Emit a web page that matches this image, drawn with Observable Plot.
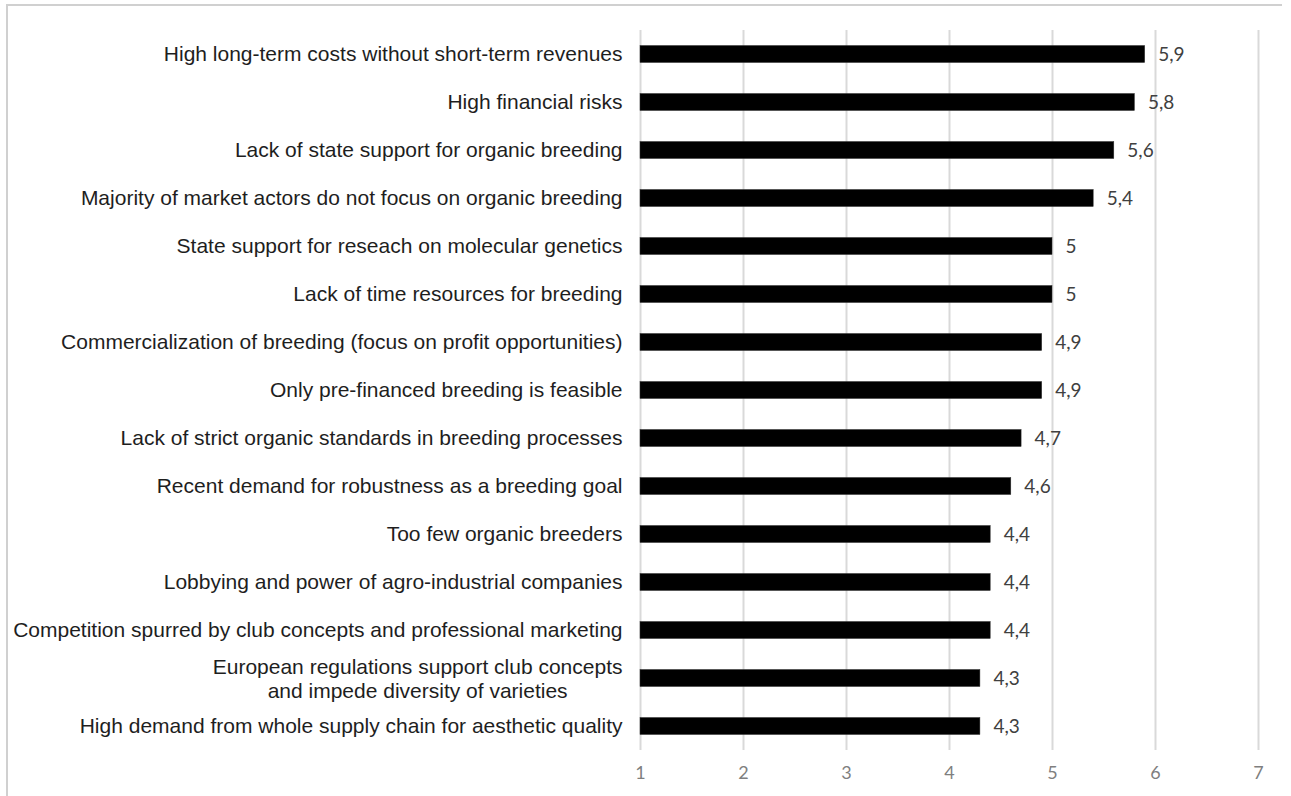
<!DOCTYPE html>
<html>
<head>
<meta charset="utf-8">
<script src="https://cdn.jsdelivr.net/npm/d3@7"></script>
<script src="https://cdn.jsdelivr.net/npm/@observablehq/plot@0.6"></script>
<style>
  html, body { margin: 0; padding: 0; background: #fff; }
  #wrap { position: relative; width: 1291px; height: 796px; }
  #frame { position: absolute; left: 6px; top: 4px; width: 1276px; height: 800px;
           border-left: 2px solid #d0d0d0; border-top: 2px solid #d0d0d0; box-sizing: border-box; pointer-events: none; }
</style>
</head>
<body>
<div id="wrap"><div id="frame"></div></div>
<script>
const categories = [
  "High long-term costs without short-term revenues",
  "High financial risks",
  "Lack of state support for organic breeding",
  "Majority of market actors do not focus on organic breeding",
  "State support for reseach on molecular genetics",
  "Lack of time resources for breeding",
  "Commercialization of breeding (focus on profit opportunities)",
  "Only pre-financed breeding is feasible",
  "Lack of strict organic standards in breeding processes",
  "Recent demand for robustness as a breeding goal",
  "Too few organic breeders",
  "Lobbying and power of agro-industrial companies",
  "Competition spurred by club concepts and professional marketing",
  "European regulations support club concepts\nand impede diversity of varieties",
  "High demand from whole supply chain for aesthetic quality"
];
const values = [5.9, 5.8, 5.6, 5.4, 5.0, 5.0, 4.9, 4.9, 4.7, 4.6, 4.4, 4.4, 4.4, 4.3, 4.3];
const tickValues = [1, 2, 3, 4, 5, 6, 7];

const data = categories.map((c, i) => ({category: c, value: values[i]}));
const fmt = v => String(v).replace(".", ",");

const labelFont = "Liberation Sans, Arial, sans-serif";
const labelSize = 21;
const ctx = document.createElement("canvas").getContext("2d");
ctx.font = `${labelSize}px "Liberation Sans"`;
const single = data.filter(d => !d.category.includes("\n"));
const multi = data.filter(d => d.category.includes("\n")).map(d => {
  const w = Math.max(...d.category.split("\n").map(s => ctx.measureText(s).width));
  return {...d, half: w / 2};
});

const marks = [
  Plot.gridX(tickValues, {stroke: "#d9d9d9", strokeOpacity: 1, strokeWidth: 2}),
  Plot.barX(data, {x1: 1, x2: "value", y: "category", fill: "#000", stroke: "#333", strokeWidth: 0.5,
    insetTop: 15.5, insetBottom: 15.5}),
  Plot.text(data, {x: "value", y: "category", text: d => fmt(d.value), textAnchor: "start", dx: 13,
    fontSize: 19, fontFamily: "Lato, sans-serif", fill: "#404040"}),
  Plot.text(single, {x: 1, y: "category", text: "category", textAnchor: "end", dx: -18,
    fontSize: labelSize, fontFamily: labelFont, fill: "#1e1e1e"}),
  Plot.axisX({ticks: tickValues, tickSize: 0, tickPadding: 16, tickFormat: d => d,
    fontSize: 18, fontFamily: "Lato, sans-serif", fill: "#7f7f7f", label: null})
];
multi.forEach(d => {
  marks.push(Plot.text([d], {x: 1, y: "category", text: "category", textAnchor: "middle",
    dx: -18 - d.half, lineHeight: 1.15, fontSize: labelSize, fontFamily: labelFont, fill: "#1e1e1e"}));
});

const chart = Plot.plot({
  width: 1291,
  height: 796,
  marginLeft: 640,
  marginRight: 33,
  marginTop: 30,
  marginBottom: 46,
  x: {domain: [1, 7]},
  y: {domain: categories, padding: 0, axis: null},
  style: {background: "transparent", overflow: "visible"},
  marks
});
document.getElementById("wrap").prepend(chart);
</script>
</body>
</html>
